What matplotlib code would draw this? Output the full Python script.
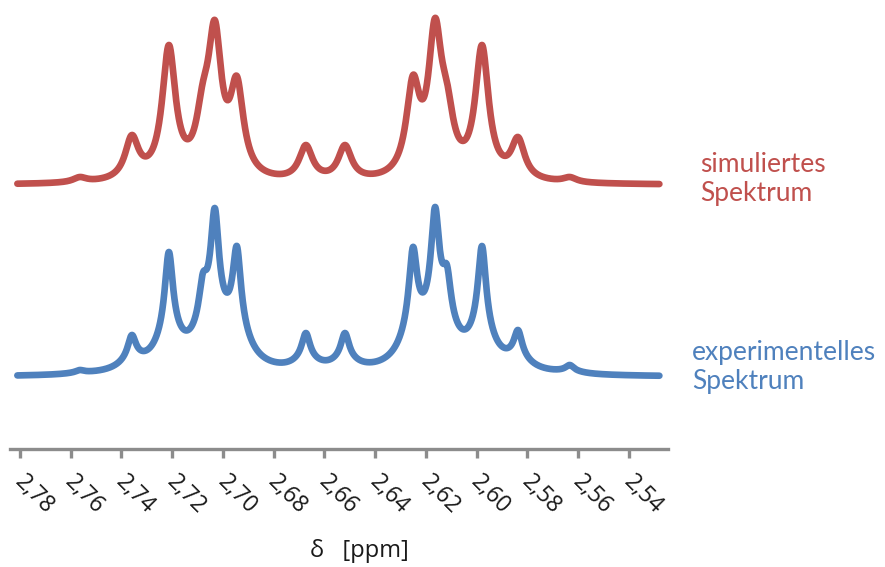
import numpy as np
import matplotlib.pyplot as plt
import matplotlib.transforms as mtransforms

# Peak positions (ppm) and peak heights above baseline
shift = [2.7564, 2.7359, 2.7213, 2.7079, 2.7032, 2.6945, 2.6673,
         2.6519, 2.6251, 2.6164, 2.6117, 2.5979, 2.5837, 2.5633]
sim_height = [8, 50, 140, 103, 165, 109, 40, 40, 110, 167, 103, 140, 48, 8]
exp_height = [7, 42, 125, 104, 169, 131, 44, 44, 130, 170, 112, 131, 47, 12]

# line shape per trace: (narrow half width, broad half width, broad fraction)
sim_shape = (0.0032, 0.0060, 0.0)
exp_shape = (0.0019, 0.0060, 0.30)

ticks = [2.78, 2.76, 2.74, 2.72, 2.70, 2.68, 2.66, 2.64, 2.62, 2.60, 2.58, 2.56, 2.54]
tick_labels = ['2,78', '2,76', '2,74', '2,72', '2,70', '2,68', '2,66',
               '2,64', '2,62', '2,60', '2,58', '2,56', '2,54']

red = '#C0504D'
blue = '#4F81BD'
sim_offset = 192


def lineshape(d, shape):
    g1, g2, f = shape
    return (1 - f) * g1**2 / (d**2 + g1**2) + f * g2**2 / (d**2 + g2**2)


def spectrum(x, heights, shape):
    pos = np.array(shift)
    m = lineshape(pos[:, None] - pos[None, :], shape)
    amp = np.linalg.solve(m, np.array(heights, dtype=float))
    return (amp[None, :] * lineshape(x[:, None] - pos[None, :], shape)).sum(axis=1)


x = np.linspace(2.781, 2.528, 3000)

fig = plt.figure(figsize=(8.85, 5.67), dpi=100)
ax = fig.add_axes([10 / 885, 1 - 449 / 567, 658 / 885, 449 / 567])

ax.plot(x, spectrum(x, sim_height, sim_shape) + sim_offset, color=red, lw=4.8,
        solid_capstyle='round', solid_joinstyle='round')
ax.plot(x, spectrum(x, exp_height, exp_shape), color=blue, lw=4.8,
        solid_capstyle='round', solid_joinstyle='round')

ax.set_xlim(2.7839, 2.5246)
ax.set_ylim(-72, 377)

for s in ['top', 'right', 'left']:
    ax.spines[s].set_visible(False)
ax.spines['bottom'].set_color('#8c8c8c')
ax.spines['bottom'].set_linewidth(2.4)
ax.set_yticks([])
ax.set_xticks(ticks)
ax.set_xticklabels(tick_labels, fontsize=16.5, family='Open Sans', color='#1a1a1a')
ax.tick_params(axis='x', direction='out', length=6.5, width=2.4, color='#8c8c8c', pad=26)
offset = mtransforms.ScaledTranslation(0.14, 0, fig.dpi_scale_trans)
for lab in ax.get_xticklabels():
    lab.set_rotation(-45)
    lab.set_rotation_mode('anchor')
    lab.set_ha('center')
    lab.set_va('center')
    lab.set_transform(lab.get_transform() + offset)

fig.text(359 / 885, 1 - 551 / 567, 'δ   [ppm]', ha='center', va='center',
         fontsize=17, family='Open Sans', color='#1a1a1a')
fig.text(700 / 885, 1 - 152 / 567, 'simuliertes\nSpektrum', ha='left', va='top',
         fontsize=19, family='Lato', color=red)
fig.text(692 / 885, 1 - 340 / 567, 'experimentelles\nSpektrum', ha='left', va='top',
         fontsize=19, family='Lato', color=blue)

fig.savefig('out.png', dpi=100)
